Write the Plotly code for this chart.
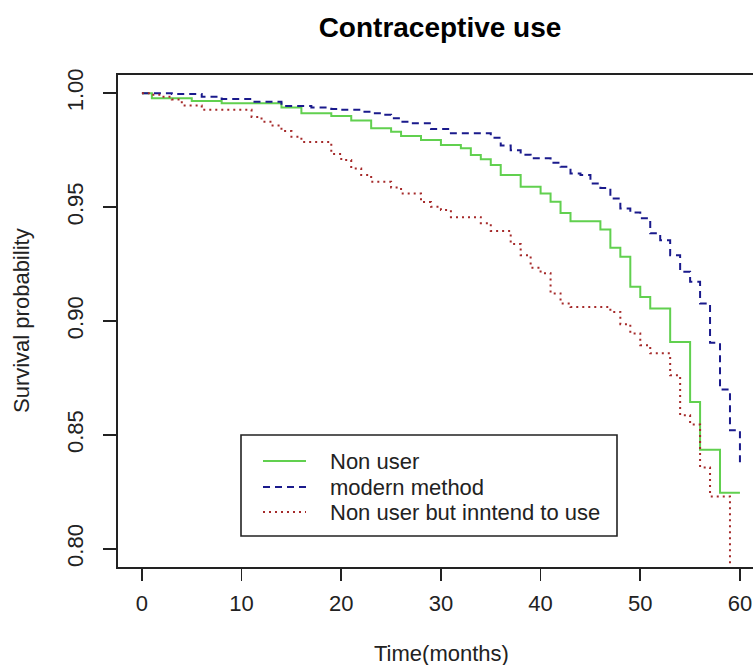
import plotly.graph_objects as go

# ---------------- data ----------------
series_names = ["Non user", "modern method", "Non user but inntend to use"]

green_time = [0, 1, 5, 8, 14, 16, 19, 21, 23, 25, 26, 28, 30, 32, 33, 34, 35, 36, 38, 40,
              41, 42, 43, 46, 47, 48, 49, 50, 51, 53, 55, 56, 58, 60]
green_surv = [1.0, 0.9978, 0.9966, 0.9956, 0.9937, 0.9912, 0.990, 0.988, 0.9846, 0.9831,
              0.9812, 0.9795, 0.9773, 0.9758, 0.9729, 0.971, 0.9685, 0.9641, 0.9589, 0.956,
              0.9524, 0.9474, 0.9438, 0.9402, 0.9322, 0.9282, 0.915, 0.9105, 0.9055, 0.8908,
              0.8644, 0.8435, 0.8246, 0.8246]

blue_time = [0, 3, 6, 8, 11, 14, 17, 19, 20, 22, 23, 24, 25, 26, 27, 29, 31, 35, 36, 37,
             38, 39, 41, 42, 43, 44, 45, 46, 47, 48, 49, 50, 51, 52, 53, 54, 55, 56, 57, 58,
             59, 60]
blue_surv = [1.0, 0.9997, 0.9985, 0.9975, 0.9963, 0.9944, 0.9937, 0.9931, 0.9927, 0.9919,
             0.9912, 0.9905, 0.989, 0.9875, 0.9868, 0.9843, 0.9824, 0.9805, 0.977, 0.975,
             0.973, 0.9714, 0.9695, 0.9677, 0.9648, 0.9641, 0.9604, 0.9584, 0.9538, 0.9494,
             0.9476, 0.9451, 0.9385, 0.9355, 0.9289, 0.9216, 0.9172, 0.9077, 0.8904, 0.8699,
             0.852, 0.8374]

red_time = [0, 1, 2, 3, 4, 6, 11, 12, 13, 14, 15, 16, 19, 20, 21, 22, 23, 25, 26, 28,
            29, 30, 31, 34, 35, 37, 38, 39, 40, 41, 42, 43, 47, 48, 49, 50, 51, 53, 54, 55,
            56, 57, 59]
red_surv = [1.0, 0.9993, 0.9985, 0.9972, 0.9946, 0.9927, 0.9896, 0.9875, 0.9858, 0.9834,
            0.9809, 0.9786, 0.9733, 0.9707, 0.967, 0.9641, 0.9611, 0.9586, 0.956, 0.9522,
            0.9502, 0.9487, 0.9456, 0.9429, 0.9395, 0.9338, 0.9289, 0.9234, 0.921, 0.9121,
            0.9077, 0.9062, 0.904, 0.8986, 0.8945, 0.8894, 0.8858, 0.8762, 0.8586, 0.8546,
            0.8357, 0.823, 0.77]

x_ticks = [0, 10, 20, 30, 40, 50, 60]
x_tick_labels = ["0", "10", "20", "30", "40", "50", "60"]
y_ticks = [0.80, 0.85, 0.90, 0.95, 1.00]
y_tick_labels = ["0.80", "0.85", "0.90", "0.95", "1.00"]

title_text = "Contraceptive use"
x_title = "Time(months)"
y_title = "Survival probability"

# ---------------- styling ----------------
FONT = "Liberation Sans, Arial, sans-serif"
INK = "#222222"
W, H = 753, 665
ML, MR, MT, MB = 118, 0, 75, 98
PW, PH = W - ML - MR, H - MT - MB

styles = [
    dict(color="#61D04F", width=2, dash="solid"),
    dict(color="#1A1A8C", width=2, dash="7px,5px"),
    dict(color="#A52A2A", width=2, dash="2px,4px"),
]
all_t = [green_time, blue_time, red_time]
all_s = [green_surv, blue_surv, red_surv]


def px_x(p):
    return (p - ML) / PW


def px_y(p):
    return (MT + PH - p) / PH


fig = go.Figure()
for name, t, s, st in zip(series_names, all_t, all_s, styles):
    fig.add_trace(go.Scatter(x=t, y=s, mode="lines", name=name, showlegend=False,
                             line=dict(shape="hv", **st), hoverinfo="skip"))

shapes = []
annotations = []

# legend (drawn to match the R legend box)
shapes.append(dict(type="rect", xref="paper", yref="paper",
                   x0=px_x(241), x1=px_x(617), y0=px_y(536), y1=px_y(435),
                   line=dict(color=INK, width=1.6), fillcolor="rgba(0,0,0,0)", layer="above"))
legend_rows = [461, 487, 512]
for name, st, row in zip(series_names, styles, legend_rows):
    shapes.append(dict(type="line", xref="paper", yref="paper",
                       x0=px_x(263), x1=px_x(306), y0=px_y(row), y1=px_y(row),
                       line=dict(color=st["color"], width=st["width"], dash=st["dash"])))
    annotations.append(dict(text=name, xref="paper", yref="paper", x=px_x(328), y=px_y(row),
                            xanchor="left", yanchor="middle", showarrow=False,
                            font=dict(family=FONT, size=22, color=INK)))

# axis titles
annotations.append(dict(text=x_title, xref="paper", yref="paper", x=px_x(441), y=0,
                        xanchor="center", yanchor="middle", yshift=-86, showarrow=False,
                        font=dict(family=FONT, size=22, color=INK)))
annotations.append(dict(text=y_title, xref="paper", yref="paper", x=0, y=0.5,
                        xanchor="center", yanchor="middle", xshift=-97, textangle=-90,
                        showarrow=False, font=dict(family=FONT, size=22, color=INK)))

fig.update_layout(
    width=W, height=H,
    margin=dict(l=ML, r=MR, t=MT, b=MB, pad=0),
    paper_bgcolor="white", plot_bgcolor="white",
    title=dict(text=title_text, x=px_x(440), xref="paper", xanchor="center",
               y=1 - 27 / H, yref="container", yanchor="middle",
               font=dict(family=FONT, size=28, color="black", weight="bold")),
    shapes=shapes, annotations=annotations,
    showlegend=False,
)
fig.update_xaxes(range=[-2.4, -2.4 + 63.71], tickvals=x_ticks, ticktext=x_tick_labels,
                 ticks="outside", ticklen=12, tickwidth=1.6, tickcolor=INK,
                 showline=True, linecolor=INK, linewidth=1.6, mirror=True,
                 showgrid=False, zeroline=False, ticklabelstandoff=4,
                 tickfont=dict(family=FONT, size=22, color=INK))
fig.update_yaxes(range=[0.792, 1.008], tickvals=y_ticks, ticktext=y_tick_labels,
                 tickangle=-90, ticks="outside", ticklen=13, tickwidth=1.6, tickcolor=INK,
                 showline=True, linecolor=INK, linewidth=1.6, mirror=False,
                 showgrid=False, zeroline=False, ticklabelstandoff=12,
                 tickfont=dict(family=FONT, size=22, color=INK))

fig.write_html("out.html",
               config={"displayModeBar": False, "staticPlot": True},
               post_script="document.body.style.margin='0px';"
                           "document.body.style.overflow='hidden';")
